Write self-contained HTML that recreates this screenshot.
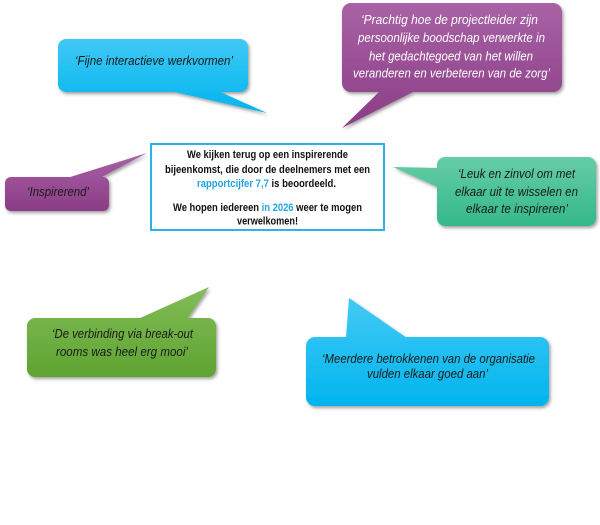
<!DOCTYPE html>
<html><head><meta charset="utf-8"><style>
html,body{margin:0;padding:0;background:#fff;}
svg{display:block;}
text{font-family:"Liberation Sans",sans-serif;}
.q{font-style:italic;font-size:12.5px;fill:#1a1a1a;}
.w{font-style:italic;font-size:12.5px;fill:#ffffff;}
.b{font-weight:bold;font-size:11px;fill:#111;}
</style></head><body>
<svg width="600" height="525" viewBox="0 0 600 525" xmlns="http://www.w3.org/2000/svg">
<defs>
<filter id="sh" x="-20%" y="-20%" width="140%" height="150%">
<feDropShadow dx="1.5" dy="2" stdDeviation="1.5" flood-color="#000" flood-opacity="0.38"/>
</filter>
<linearGradient id="gb1" gradientUnits="userSpaceOnUse" x1="0" y1="39" x2="0" y2="113"><stop offset="0" stop-color="#40c9f5"/><stop offset="1" stop-color="#00b4ee"/></linearGradient>
<linearGradient id="gp1" gradientUnits="userSpaceOnUse" x1="0" y1="3" x2="0" y2="128"><stop offset="0" stop-color="#a862a5"/><stop offset="1" stop-color="#8a3c85"/></linearGradient>
<linearGradient id="gp2" gradientUnits="userSpaceOnUse" x1="0" y1="153" x2="0" y2="211"><stop offset="0" stop-color="#a862a5"/><stop offset="1" stop-color="#8a3c85"/></linearGradient>
<linearGradient id="gg1" gradientUnits="userSpaceOnUse" x1="0" y1="157" x2="0" y2="226"><stop offset="0" stop-color="#66cca6"/><stop offset="1" stop-color="#33b88a"/></linearGradient>
<linearGradient id="gg2" gradientUnits="userSpaceOnUse" x1="0" y1="287" x2="0" y2="377"><stop offset="0" stop-color="#82bd57"/><stop offset="1" stop-color="#5ea332"/></linearGradient>
<linearGradient id="gb2" gradientUnits="userSpaceOnUse" x1="0" y1="298" x2="0" y2="406"><stop offset="0" stop-color="#44caf5"/><stop offset="1" stop-color="#00b4ee"/></linearGradient>
</defs>

<!-- Blue top bubble -->
<g filter="url(#sh)" fill="url(#gb1)">
<rect x="58" y="39" width="190" height="53" rx="8"/>
<polygon points="170,91 218,91 267,113"/>
</g>
<text class="q" x="75" y="65" textLength="158" lengthAdjust="spacingAndGlyphs">‘Fijne interactieve werkvormen’</text>

<!-- Purple big bubble -->
<g filter="url(#sh)" fill="url(#gp1)">
<rect x="342" y="3" width="220" height="89" rx="9"/>
<polygon points="380,91 415,91 342,128"/>
</g>
<text class="w" x="361" y="24" textLength="177" lengthAdjust="spacingAndGlyphs">‘Prachtig hoe de projectleider zijn</text>
<text class="w" x="358" y="42" textLength="187" lengthAdjust="spacingAndGlyphs">persoonlijke boodschap verwerkte in</text>
<text class="w" x="369" y="60.5" textLength="164" lengthAdjust="spacingAndGlyphs">het gedachtegoed van het willen</text>
<text class="w" x="353" y="77.5" textLength="197" lengthAdjust="spacingAndGlyphs">veranderen en verbeteren van de zorg’</text>

<!-- Inspirerend bubble -->
<g filter="url(#sh)" fill="url(#gp2)">
<rect x="5" y="177" width="104" height="34" rx="6"/>
<polygon points="67,178 100,178 147,153"/>
</g>
<text class="q" x="27" y="196" textLength="62" lengthAdjust="spacingAndGlyphs">‘Inspirerend’</text>

<!-- Green right bubble -->
<g filter="url(#sh)" fill="url(#gg1)">
<rect x="437" y="157" width="159" height="69" rx="8"/>
<polygon points="393,167 440,168 440,188"/>
</g>
<text class="q" x="458" y="178" textLength="117" lengthAdjust="spacingAndGlyphs">‘Leuk en zinvol om met</text>
<text class="q" x="455" y="196" textLength="123" lengthAdjust="spacingAndGlyphs">elkaar uit te wisselen en</text>
<text class="q" x="466" y="213" textLength="102" lengthAdjust="spacingAndGlyphs">elkaar te inspireren’</text>

<!-- Green bottom-left bubble -->
<g filter="url(#sh)" fill="url(#gg2)">
<rect x="27" y="318" width="189" height="59" rx="8"/>
<polygon points="138,319 187,319 209,287"/>
</g>
<text class="q" x="52" y="338" textLength="141" lengthAdjust="spacingAndGlyphs">‘De verbinding via break-out</text>
<text class="q" x="56" y="356" textLength="132" lengthAdjust="spacingAndGlyphs">rooms was heel erg mooi’</text>

<!-- Blue bottom-right bubble -->
<g filter="url(#sh)" fill="url(#gb2)">
<rect x="306" y="337" width="243" height="69" rx="9"/>
<polygon points="346,338 407,338 349,298"/>
</g>
<text class="q" x="322" y="363" textLength="213" lengthAdjust="spacingAndGlyphs">‘Meerdere betrokkenen van de organisatie</text>
<text class="q" x="367" y="378" textLength="121" lengthAdjust="spacingAndGlyphs">vulden elkaar goed aan’</text>

<!-- Center box -->
<rect x="151" y="144" width="233" height="86" fill="#fff" stroke="#2ab3e6" stroke-width="2"/>
<text class="b" x="187" y="158" textLength="161" lengthAdjust="spacingAndGlyphs">We kijken terug op een inspirerende</text>
<text class="b" x="165" y="173" textLength="205" lengthAdjust="spacingAndGlyphs">bijeenkomst, die door de deelnemers met een</text>
<text class="b" x="197" y="187" textLength="139" lengthAdjust="spacingAndGlyphs"><tspan fill="#1fa6e2">rapportcijfer 7,7</tspan> is beoordeeld.</text>
<text class="b" x="173" y="211" textLength="189" lengthAdjust="spacingAndGlyphs">We hopen iedereen <tspan fill="#1fa6e2">in 2026</tspan> weer te mogen</text>
<text class="b" x="237" y="224.5" textLength="61" lengthAdjust="spacingAndGlyphs">verwelkomen!</text>
</svg>
</body></html>
